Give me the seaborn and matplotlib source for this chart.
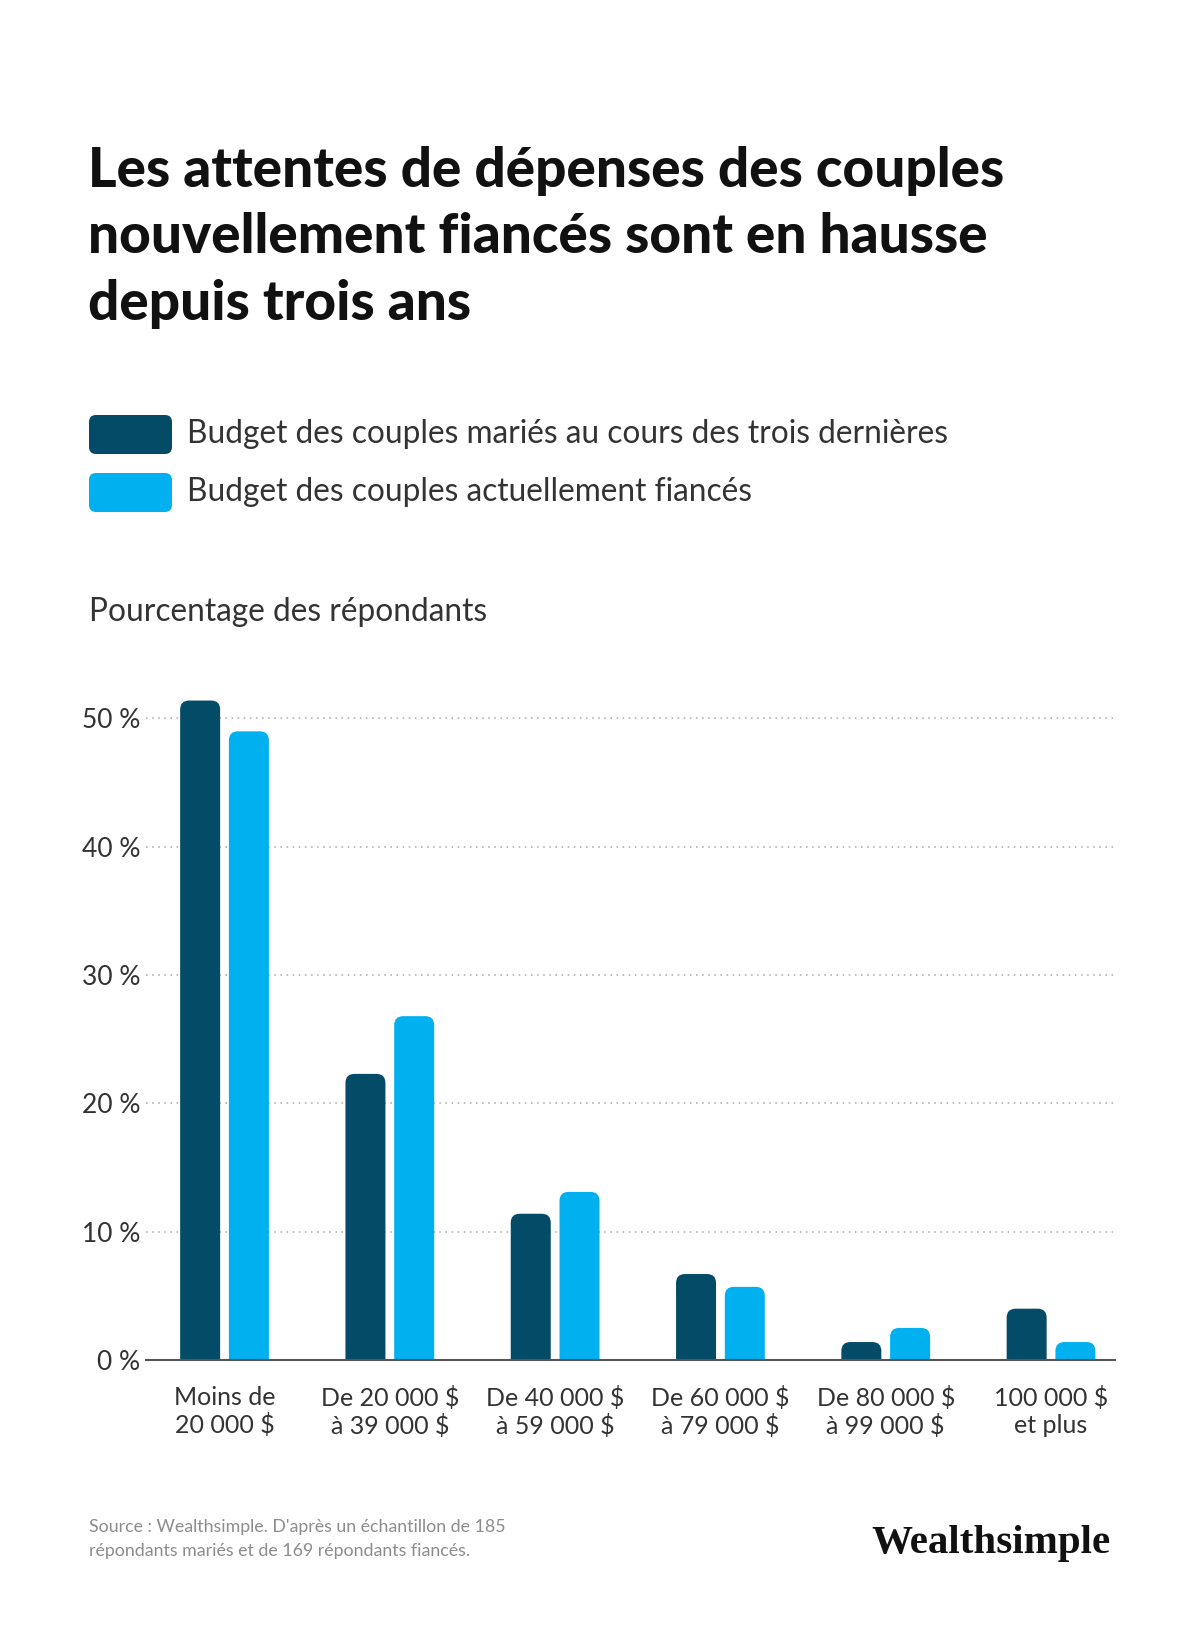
import matplotlib as mpl
import numpy as np
import pandas as pd
import seaborn as sns
from matplotlib import pyplot as plt
from matplotlib.patches import FancyBboxPatch

# %% -- data ------------------------------------------------------------------ #
categories = ['Moins de\n20 000 $', 'De 20 000 $\nà 39 000 $', 'De 40 000 $\nà 59 000 $',
              'De 60 000 $\nà 79 000 $', 'De 80 000 $\nà 99 000 $', '100 000 $\net plus']
series = ['Budget des couples mariés au cours des trois dernières',
          'Budget des couples actuellement fiancés']
maries = [51.4, 22.3, 11.4, 6.7, 1.4, 4.0]
fiances = [49.0, 26.8, 13.1, 5.7, 2.5, 1.4]
yticks = [0, 10, 20, 30, 40, 50]
ytick_labels = ['0 %', '10 %', '20 %', '30 %', '40 %', '50 %']

title = ('Les attentes de dépenses des couples\n'
         'nouvellement fiancés sont en hausse\n'
         'depuis trois ans')
axis_title = 'Pourcentage des répondants'
source = ("Source : Wealthsimple. D'après un échantillon de 185\n"
          "répondants mariés et de 169 répondants fiancés.")

df = pd.DataFrame({'categorie': categories * 2,
                   'serie': [series[0]] * 6 + [series[1]] * 6,
                   'valeur': maries + fiances})

# %% -- style ----------------------------------------------------------------- #
sns.set_style('white')
mpl.rcParams['font.family'] = ['Lato', 'DejaVu Sans']

W, H = 1200, 1647
dark = '#034B66'
light = '#00B0EF'
colours = {series[0]: dark, series[1]: light}

def fx(x):
    return x / W

def fy(y):
    return 1 - y / H

fig = plt.figure(figsize=(W / 100, H / 100), dpi=100)
fig.patch.set_facecolor('white')

# axes placement (pixels of the reference)
ax_left, ax_right, y0_px = 146, 1115, 1360
px_per_pct = 12.83
ymax = 52
ax = fig.add_axes([fx(ax_left), fy(y0_px), (ax_right - ax_left) / W,
                   ymax * px_per_pct / H])

sns.barplot(data=df, x='categorie', y='valeur', hue='serie', hue_order=series,
            palette=colours, width=0.59, gap=0.18, saturation=1,
            legend=False, ax=ax, zorder=3)

ax.set_xlim(-0.475, 5.387)
ax.set_ylim(0, ymax)

# round the top of each bar
px_per_x = (ax_right - ax_left) / (5.387 + 0.475)
r_px = 9
rx = r_px / px_per_x
asp = px_per_x / px_per_pct
for p in list(ax.patches):
    x, w, h = p.get_x(), p.get_width(), p.get_height()
    ry = r_px / px_per_pct
    rb = FancyBboxPatch((x, -ry), w, h + ry,
                        boxstyle='round,pad=0,rounding_size=%f' % rx,
                        mutation_aspect=asp, facecolor=p.get_facecolor(),
                        edgecolor='none', zorder=3)
    p.remove()
    ax.add_patch(rb)

# grid and spines
ax.set_yticks(yticks)
ax.set_yticklabels(ytick_labels, fontsize=19, color='#333333')
ax.yaxis.grid(True, color='#A8A8A8', linestyle=(0, (1, 3)), linewidth=1.1, zorder=0)
ax.set_axisbelow(True)
for s in ['top', 'right', 'left']:
    ax.spines[s].set_visible(False)
ax.spines['bottom'].set_color('#555555')
ax.spines['bottom'].set_linewidth(1.5)
ax.spines['bottom'].set_zorder(5)
ax.tick_params(axis='y', length=0, pad=4)
ax.tick_params(axis='x', length=0, pad=19)
ax.set_xticks(range(len(categories)))
ax.set_xticklabels(categories, fontsize=18, color='#333333', linespacing=1.2)
ax.set_xlabel('')
ax.set_ylabel('')

# %% -- texts ----------------------------------------------------------------- #
fig.text(fx(88), fy(146), title, fontsize=39.5, fontweight='black', color='#111111',
         va='top', ha='left', linespacing=1.4)

for i, (s, c) in enumerate(zip(series, [dark, light])):
    yc = 434 + i * 58
    sw = FancyBboxPatch((fx(89), fy(yc + 20)), fx(83), 39 / H,
                        boxstyle='round,pad=0,rounding_size=%f' % fx(7),
                        mutation_aspect=W / H, facecolor=c, edgecolor='none',
                        transform=fig.transFigure)
    fig.add_artist(sw)
    fig.text(fx(187), fy(yc), s, fontsize=22.8, color='#333333', va='center', ha='left')

fig.text(fx(89), fy(612), axis_title, fontsize=22.8, color='#333333', va='center', ha='left')

fig.text(fx(89), fy(1539), source, fontsize=12.8, color='#8C8C8C', va='center', ha='left',
         linespacing=1.55)
fig.text(fx(1111), fy(1544), 'Wealthsimple', fontsize=29.5, fontweight='bold',
         family=['Liberation Serif', 'DejaVu Serif'], color='#111111',
         va='center', ha='right')

plt.savefig('out.png', dpi=100, facecolor='white')
